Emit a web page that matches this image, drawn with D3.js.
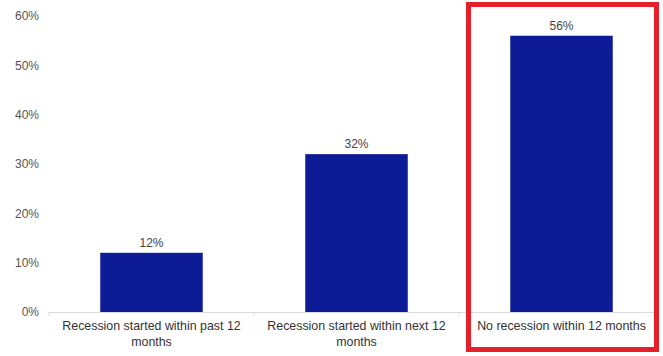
<!DOCTYPE html>
<html lang="en">
<head>
    <meta charset="UTF-8">
    <title></title>
    <script src="https://cdn.jsdelivr.net/npm/d3@7/dist/d3.min.js"></script>
    <style>
        body { margin: 0; background: #fff; }
        text { font-family: "Liberation Sans", Arial, sans-serif; }
    </style>
</head>
<body>
    <div id='root'></div>
    <script>
        const categories = [
            ['Recession started within past 12', 'months'],
            ['Recession started within next 12', 'months'],
            ['No recession within 12 months']
        ];
        const values = [0.12, 0.32, 0.56];
        const yTicks = [0, 0.1, 0.2, 0.3, 0.4, 0.5, 0.6];

        const width = 663, height = 356;
        const margin = {top: 16, right: -1, bottom: 44, left: 49};

        const svg = d3.select('#root')
            .append('svg')
            .attr('width', width)
            .attr('height', height);

        const x = d3.scaleBand()
            .domain(d3.range(values.length))
            .range([margin.left, width - margin.right])
            .paddingInner(0.5)
            .paddingOuter(0.25);

        const y = d3.scaleLinear()
            .domain([0, 0.6])
            .range([height - margin.bottom, margin.top]);

        // y axis labels, no line
        svg.append('g')
            .selectAll('text')
            .data(yTicks)
            .enter()
            .append('text')
            .attr('x', 39)
            .attr('y', d => y(d))
            .attr('dy', '0.35em')
            .attr('text-anchor', 'end')
            .attr('font-size', 12)
            .attr('fill', '#555')
            .text(d => d3.format('.0%')(d));

        // baseline
        svg.append('line')
            .attr('x1', margin.left)
            .attr('x2', 660)
            .attr('y1', y(0) + 0.5)
            .attr('y2', y(0) + 0.5)
            .attr('stroke', '#d9d9d9');

        // small separators between categories
        const step = x.step();
        svg.append('g')
            .selectAll('line')
            .data([0, 1, 2])
            .enter()
            .append('line')
            .attr('x1', d => x(d) + x.bandwidth() / 2 - step / 2)
            .attr('x2', d => x(d) + x.bandwidth() / 2 - step / 2)
            .attr('y1', y(0))
            .attr('y2', y(0) + 4)
            .attr('stroke', '#d9d9d9');

        svg.append('g')
            .selectAll('rect')
            .data(values)
            .enter()
            .append('rect')
            .attr('x', (d, i) => x(i))
            .attr('y', d => y(d))
            .attr('width', x.bandwidth())
            .attr('height', d => y(0) - y(d))
            .attr('fill', '#0e1b97');

        svg.append('g')
            .selectAll('text')
            .data(values)
            .enter()
            .append('text')
            .attr('x', (d, i) => x(i) + x.bandwidth() / 2)
            .attr('y', d => y(d) - 6)
            .attr('text-anchor', 'middle')
            .attr('font-size', 12)
            .attr('fill', '#444')
            .text(d => d3.format('.0%')(d));

        const labels = svg.append('g')
            .selectAll('text')
            .data(categories)
            .enter()
            .append('text')
            .attr('x', (d, i) => x(i) + x.bandwidth() / 2)
            .attr('y', y(0) + 18)
            .attr('text-anchor', 'middle')
            .attr('font-size', 12.4)
            .attr('fill', '#333');

        labels.each(function(d, i) {
            const cx = x(i) + x.bandwidth() / 2;
            d3.select(this).selectAll('tspan')
                .data(d)
                .enter()
                .append('tspan')
                .attr('x', cx)
                .attr('dy', (t, j) => j === 0 ? 0 : 15.5)
                .text(t => t);
        });

        // red highlight box round the last category
        const last = values.length - 1;
        svg.append('rect')
            .attr('x', x(last) + x.bandwidth() / 2 - 93)
            .attr('y', 4.5)
            .attr('width', 188)
            .attr('height', 345)
            .attr('fill', 'none')
            .attr('stroke', '#e5202a')
            .attr('stroke-width', 5);
    </script>
</body>
</html>
